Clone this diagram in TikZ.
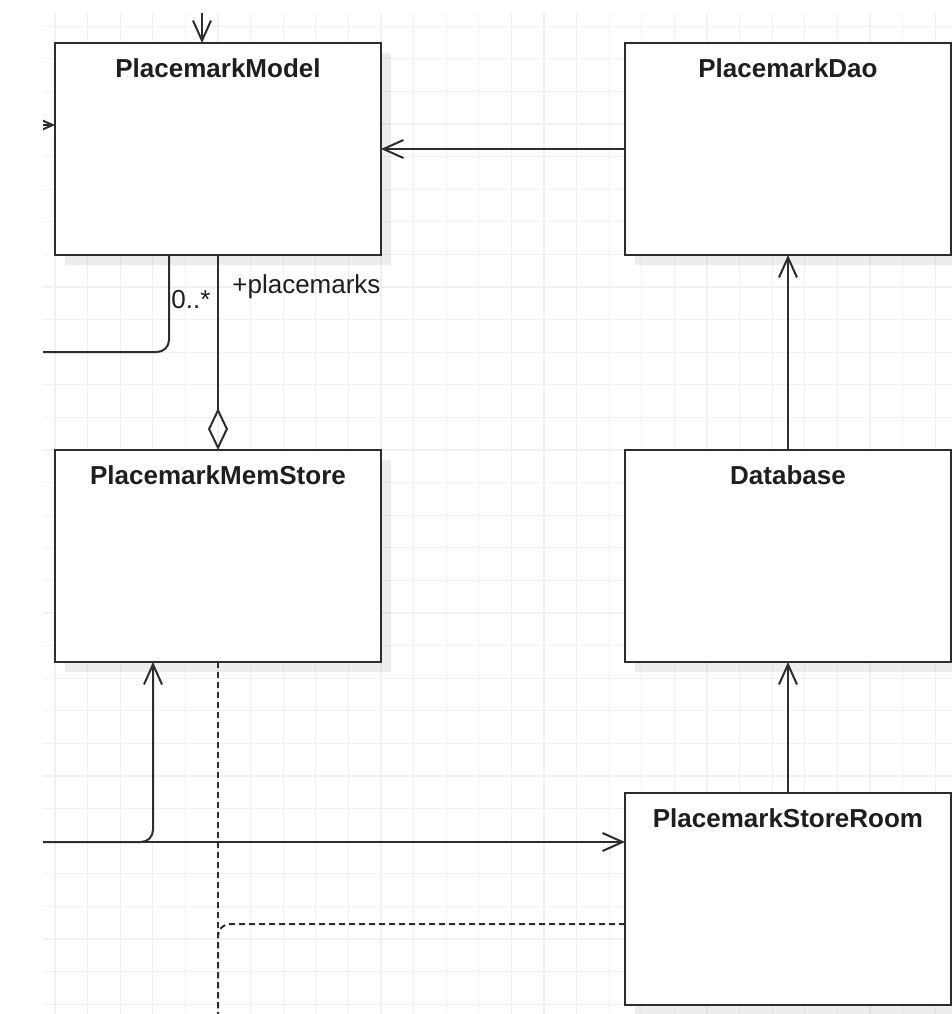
\documentclass[tikz,border=0pt]{standalone}
\usepackage{fontspec}
\setmainfont{Liberation Sans}
\usepackage{tikz}
\usetikzlibrary{arrows.meta,shadows}
\definecolor{UmlLine}{RGB}{45,45,45}
\definecolor{UmlText}{RGB}{30,30,30}
\definecolor{GridGray}{RGB}{241,241,241}

\begin{document}
\begin{tikzpicture}[
  x=0.5pt, y=-0.5pt,
  classbox/.style={draw=UmlLine, line width=1pt, fill=white, anchor=north west, inner sep=0pt, outer sep=0pt, minimum width=163pt, minimum height=106pt, drop shadow={shadow xshift=5pt, shadow yshift=-5pt, fill=black, opacity=0.07}},
  classname/.style={anchor=north, inner sep=0pt, yshift=-7.5pt, text=UmlText, font=\bfseries\fontsize{13}{15}\selectfont},
  role/.style={inner sep=0pt, text=UmlText, font=\fontsize{13}{15}\selectfont},
  line/.style={draw=UmlLine, line width=1pt},
  assoc/.style={line, -{Straight Barb[length=10pt, width=9pt]}},
  aggr/.style={line, {Diamond[open, length=21pt, width=10pt]}-},
  dep/.style={line, dash pattern=on 3pt off 2pt},
  gridline/.style={draw=GridGray, line width=0.6pt}
]
\useasboundingbox[fill=white] (0,0) rectangle (952,1014);
\begin{scope}
\clip (43,13) rectangle (952,1014);
\foreach \k in {0,...,27}
  \draw[gridline] (55+32.6*\k,13) -- (55+32.6*\k,1014);
\foreach \k in {-13,...,17}
  \draw[gridline] (43,450+32.6*\k) -- (952,450+32.6*\k);

\node[classbox, label={[classname]north:PlacemarkModel}] (model) at (55,43) {};
\node[classbox, label={[classname]north:PlacemarkDao}] (dao) at (625,43) {};
\node[classbox, label={[classname]north:PlacemarkMemStore}] (memstore) at (55,450) {};
\node[classbox, label={[classname]north:Database}] (db) at (625,450) {};
\node[classbox, label={[classname]north:PlacemarkStoreRoom}] (storeroom) at (625,793) {};

\coordinate (topfeed) at (202,5);
\coordinate (sidefeed) at (30,125);
\coordinate (sideout) at (30,352);
\coordinate (roomfeed) at (30,842);
\coordinate (downout) at (218,1030);

\draw[assoc] (topfeed) -- (topfeed |- model.north);
\draw[assoc] (sidefeed) -- (sidefeed -| model.west);
\draw[assoc] (dao.west) -- (model.east);
\draw[assoc] (db.north) -- (dao.south);
\draw[assoc] (storeroom.north) -- (db.south);
\draw[line, rounded corners=6pt] ([xshift=-24.5pt]model.south) |- (sideout);
\draw[aggr] (memstore.north) -- (model.south);
\draw[assoc, rounded corners=6pt] (roomfeed) -| ([xshift=-32.5pt]memstore.south);
\draw[assoc] (roomfeed) -- (roomfeed -| storeroom.west);
\draw[dep] (memstore.south) -- (downout);
\draw[dep, rounded corners=6pt] ([yshift=-12.5pt]storeroom.west) -| (downout);

\node[role, anchor=base west] (mult) at (171,308) {0..*};
\node[role, anchor=base west] (rolename) at (232,293) {+placemarks};
\end{scope}
\end{tikzpicture}
\end{document}
